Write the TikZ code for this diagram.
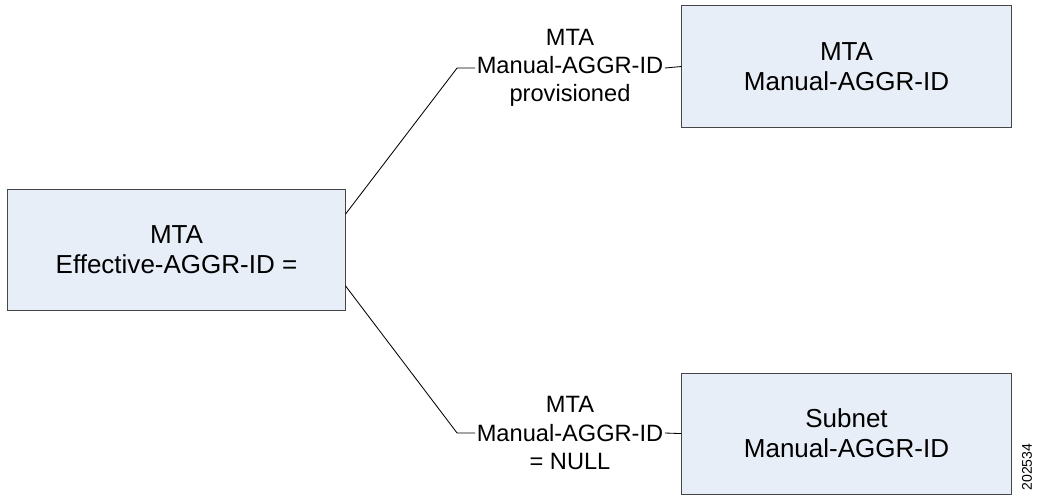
\documentclass[tikz,border=0pt]{standalone}
\usepackage{fontspec}
\setmainfont{Liberation Sans}
\usetikzlibrary{positioning}
\definecolor{boxfill}{RGB}{232,238,247}
\definecolor{boxline}{RGB}{70,70,70}

\begin{document}
\begin{tikzpicture}[x=0.025cm, y=-0.025cm,
    idbox/.style={draw=boxline, fill=boxfill, line width=0.7pt, align=center, minimum height=3.025cm, font=\fontsize{18.5}{21.5}\selectfont},
    cond/.style={align=center, inner sep=1pt, font=\fontsize{16.8}{20}\selectfont},
    wire/.style={draw, line width=0.6pt}]
    \useasboundingbox (0,0) rectangle (1039,499);

    % Boxes
    \node[idbox, minimum width=8.425cm] (effbox) at (176.5,250) {MTA\\Effective-AGGR-ID =};
    \node[idbox, minimum width=8.225cm] (mtabox) at (846.5,66.5) {MTA\\Manual-AGGR-ID};
    \node[idbox, minimum width=8.225cm, below=6.125cm of mtabox] (subbox) {Subnet\\Manual-AGGR-ID};

    % Conditions
    \node[cond] (provlab) at (570,68) {MTA\\Manual-AGGR-ID\\provisioned};
    \node[cond] (nulllab) at (570,433) {MTA\\Manual-AGGR-ID\\= NULL};

    % Wires
    \draw[wire] (effbox.12) -- ([xshift=-0.45cm]provlab.west) -- (provlab.west);
    \draw[wire] (provlab.east) -- (mtabox.west);
    \draw[wire] (effbox.-12) -- ([xshift=-0.45cm]nulllab.west) -- (nulllab.west);
    \draw[wire] (nulllab.east) -- (subbox.west);

    % Figure number
    \node[rotate=90, font=\fontsize{10}{12}\selectfont] (fignum) at (1027,467) {202534};
\end{tikzpicture}
\end{document}
